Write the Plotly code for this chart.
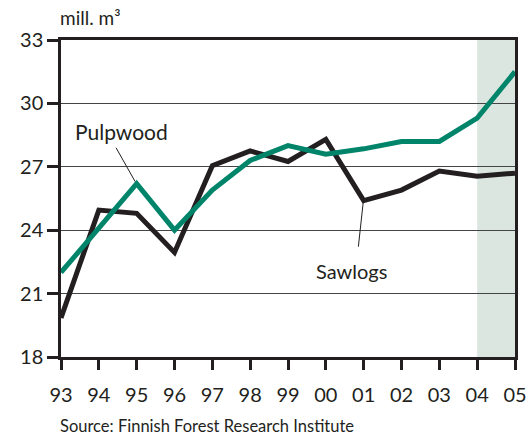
import plotly.graph_objects as go

years = ["93", "94", "95", "96", "97", "98", "99", "00", "01", "02", "03", "04", "05"]
pulpwood = [22.0, 24.1, 26.2, 24.0, 25.9, 27.3, 28.0, 27.6, 27.85, 28.2, 28.2, 29.3, 31.5]
sawlogs = [19.85, 24.95, 24.8, 22.95, 27.05, 27.75, 27.25, 28.3, 25.4, 25.9, 26.8, 26.55, 26.7]
y_ticks = [18, 21, 24, 27, 30, 33]

FONT = "Lato"
GREEN = "#00856b"
BLACK = "#231f20"

xs = list(range(len(years)))

fig = go.Figure()
fig.add_trace(go.Scatter(x=xs, y=sawlogs, mode="lines", name="Sawlogs",
                         line=dict(color=BLACK, width=5), showlegend=False))
fig.add_trace(go.Scatter(x=xs, y=pulpwood, mode="lines", name="Pulpwood",
                         line=dict(color=GREEN, width=5), showlegend=False))

# forecast shading
fig.add_shape(type="rect", xref="x", yref="paper", x0=11, x1=12, y0=0, y1=1,
              fillcolor="#dce6e1", line=dict(width=0), layer="below")

# leader lines
fig.add_shape(type="line", xref="x", yref="y", x0=1.455, y0=27.9, x1=1.96, y1=26.3,
              line=dict(color=BLACK, width=1))
fig.add_shape(type="line", xref="x", yref="y", x0=7.86, y0=23.22, x1=7.99, y1=25.35,
              line=dict(color=BLACK, width=1))

fig.add_annotation(x=1.61, y=28.68, xref="x", yref="y", text="Pulpwood", showarrow=False,
                   font=dict(family=FONT, size=21, color=BLACK))
fig.add_annotation(x=7.67, y=22.09, xref="x", yref="y", text="Sawlogs", showarrow=False,
                   font=dict(family=FONT, size=20, color=BLACK))
fig.add_annotation(x=0, y=1, xref="paper", yref="paper", xanchor="left", yanchor="bottom",
                   text="mill. m³", showarrow=False, yshift=9, xshift=-3,
                   font=dict(family=FONT, size=19, color=BLACK))
fig.add_annotation(x=0, y=0, xref="paper", yref="paper", xanchor="left", yanchor="middle",
                   text="Source: Finnish Forest Research Institute", showarrow=False,
                   yshift=-69, xshift=-3,
                   font=dict(family=FONT, size=16.5, color=BLACK))

fig.update_layout(
    width=526, height=438,
    margin=dict(l=61, r=11, t=40, b=81, autoexpand=False),
    paper_bgcolor="white", plot_bgcolor="rgba(0,0,0,0)",
    font=dict(family=FONT, color=BLACK),
)

fig.update_xaxes(
    range=[0, 12], tickmode="array", tickvals=xs, ticktext=years,
    ticks="outside", ticklen=10, tickwidth=2.5, tickcolor=BLACK,
    showline=True, linewidth=2.5, linecolor=BLACK, mirror=True,
    showgrid=False, zeroline=False, automargin=False, ticklabelstandoff=8,
    ticklabeloverflow="allow",
    tickfont=dict(family=FONT, size=20, color=BLACK),
)
fig.update_yaxes(
    range=[18, 33], tickmode="array", tickvals=y_ticks,
    ticks="outside", ticklen=11, tickwidth=2.5, tickcolor=BLACK,
    showline=True, linewidth=2.5, linecolor=BLACK, mirror=True,
    showgrid=True, gridcolor="#444", gridwidth=1, zeroline=False, automargin=False,
    tickfont=dict(family=FONT, size=20, color=BLACK),
)

fig.write_html("out.html", config={"displayModeBar": False},
               post_script="document.body.style.margin='0';")
